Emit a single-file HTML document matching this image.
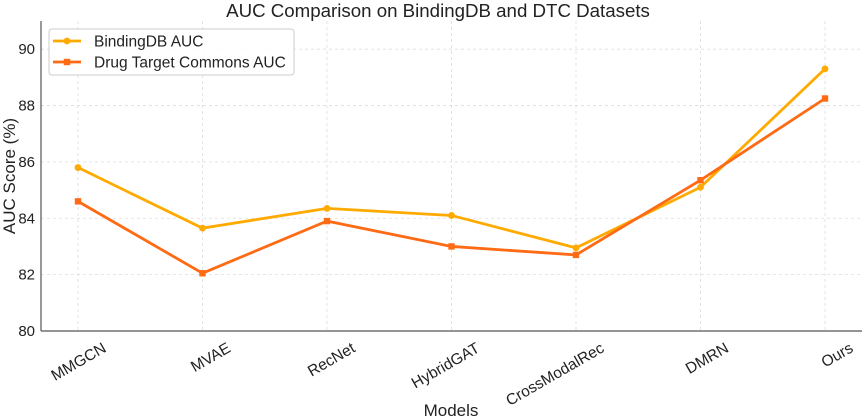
<!DOCTYPE html>
<html><head><meta charset="utf-8"><style>
body{margin:0;background:#fff;}
svg{display:block;font-family:"Liberation Sans","DejaVu Sans",sans-serif;}
</style></head><body>
<svg id="chart" width="865" height="420" viewBox="0 0 865 420"></svg>
<script>
const categories = ["MMGCN","MVAE","RecNet","HybridGAT","CrossModalRec","DMRN","Ours"];
const bindingValues = [85.8, 83.65, 84.35, 84.1, 82.95, 85.1, 89.3];
const dtcValues = [84.6, 82.05, 83.9, 83.0, 82.7, 85.35, 88.25];
const yTicks = [80, 82, 84, 86, 88, 90];

const svg = document.getElementById('chart');
const NS = 'http://www.w3.org/2000/svg';
const x0 = 78, xStep = 124.5;
const yMin = 80, yMax = 91, yBottom = 331, yTop = 21;
function xs(i){ return x0 + i*xStep; }
function ys(v){ return yBottom - (v - yMin)/(yMax - yMin)*(yBottom - yTop); }
function mk(tag, attrs, parent){
  const e = document.createElementNS(NS, tag);
  for (const k in attrs) e.setAttribute(k, attrs[k]);
  (parent||svg).appendChild(e);
  return e;
}

const grid = mk('g', {});


yTicks.forEach(v => {
  mk('line', {x1:41, x2:862, y1:ys(v), y2:ys(v), stroke:'#ddd', 'stroke-width':0.8, 'stroke-dasharray':'3,3'}, grid);
});
categories.forEach((c,i) => {
  mk('line', {x1:xs(i), x2:xs(i), y1:yTop, y2:yBottom, stroke:'#ddd', 'stroke-width':0.8, 'stroke-dasharray':'3,3'}, grid);
});

const ax = mk('g', {});


mk('line', {x1:41, x2:41, y1:yTop, y2:yBottom, stroke:'#555', 'stroke-width':1.2}, ax);
mk('line', {x1:41, x2:862, y1:yBottom, y2:yBottom, stroke:'#555', 'stroke-width':1.2}, ax);

yTicks.forEach(v => {
  const t = mk('text', {x:35, y:ys(v)+5, 'text-anchor':'end', 'font-size':15, fill:'#222'}, ax);
  t.textContent = v;
  
  
});
categories.forEach((c,i) => {
  const ax0 = xs(i)+24, ay0 = yBottom+11;
  const t = mk('text', {x:ax0, y:ay0, 'text-anchor':'end', 'font-size':15.5, fill:'#222', transform:'rotate(-30 '+ax0+' '+ay0+')', 'dominant-baseline':'hanging'}, ax);
  t.textContent = c;
  
  
});

function series(vals, color, marker, name){
  const g = mk('g', {});
  
  
  mk('polyline', {points: vals.map((v,i)=>xs(i)+','+ys(v)).join(' '), fill:'none', stroke:color, 'stroke-width':2.8}, g);
  vals.forEach((v,i) => {
    let m;
    if (marker==='circle') m = mk('circle', {cx:xs(i), cy:ys(v), r:3.4, fill:color}, g);
    else m = mk('rect', {x:xs(i)-3.2, y:ys(v)-3.2, width:6.4, height:6.4, fill:color}, g);
    
    
  });
}
series(bindingValues, '#FFAA00', 'circle', 'bindingdb-series');
series(dtcValues, '#FF6A14', 'square', 'dtc-series');
</script>
<svg style="position:absolute;left:0;top:0" width="865" height="420">
  <text x="438" y="17" text-anchor="middle" font-size="18.7" fill="#222" font-family="Liberation Sans, sans-serif">AUC Comparison on BindingDB and DTC Datasets</text>
  <text x="451" y="416" text-anchor="middle" font-size="17" fill="#222" font-family="Liberation Sans, sans-serif">Models</text>
  <text x="15" y="176" text-anchor="middle" font-size="17" fill="#222" font-family="Liberation Sans, sans-serif" transform="rotate(-90 15 176)">AUC Score (%)</text>
  <g>
    <rect x="49" y="29" width="245" height="46" rx="3" fill="#fff" fill-opacity="0.85" stroke="#ccc"/>
    <line x1="53" x2="81" y1="41" y2="41" stroke="#FFAA00" stroke-width="2.8"/>
    <circle cx="67" cy="41" r="3.4" fill="#FFAA00"/>
    <text x="94" y="46.5" font-size="15.5" fill="#222" font-family="Liberation Sans, sans-serif">BindingDB AUC</text>
    <line x1="53" x2="81" y1="62" y2="62" stroke="#FF6A14" stroke-width="2.8"/>
    <rect x="63.8" y="58.8" width="6.4" height="6.4" fill="#FF6A14"/>
    <text x="94" y="67.5" font-size="15.5" fill="#222" font-family="Liberation Sans, sans-serif">Drug Target Commons AUC</text>
  </g>
</svg>
</body></html>
